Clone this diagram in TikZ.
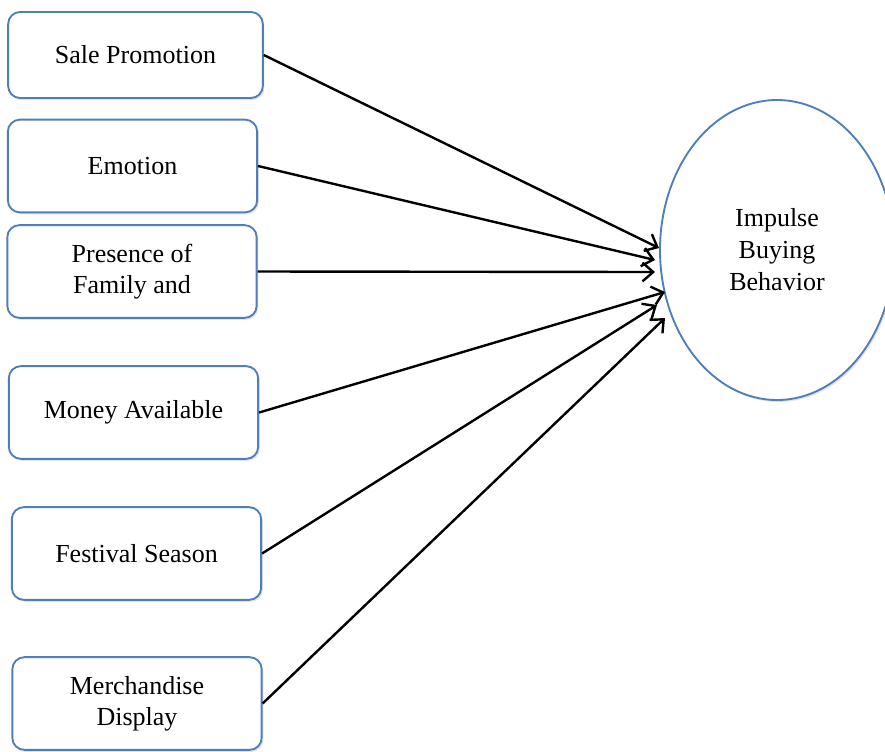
\documentclass[tikz,border=0pt]{standalone}
\usepackage{fontspec}
\setmainfont{Liberation Serif}
\usetikzlibrary{arrows.meta,shapes.geometric,shadows}
\definecolor{boxblue}{HTML}{4F7EBB}

\begin{document}
\begin{tikzpicture}[
  x=0.75pt,y=-0.75pt,
  factor/.style={draw=boxblue,line width=1.4pt,rounded corners=9pt,fill=white,
    minimum width=187pt,minimum height=69.5pt,align=center,
    font=\fontsize{19.5}{23.5}\selectfont,
    drop shadow={shadow xshift=1.2pt,shadow yshift=-1.5pt,fill=black!22}},
  outcome/.style={draw=boxblue,ellipse,line width=1.4pt,fill=white,
    minimum width=175.5pt,minimum height=225pt,inner sep=0pt,align=center,
    font=\fontsize{19.5}{24}\selectfont,
    drop shadow={shadow xshift=1.2pt,shadow yshift=-1.5pt,fill=black!22}},
  influence/.style={-{Straight Barb[length=8pt,width=14pt]},line width=1.8pt}
]
  \useasboundingbox (0,0) rectangle (885,751);

  \node[outcome] (ibb) at (777,250) {Impulse\\Buying\\Behavior};

  \node[factor,minimum width=191pt,minimum height=64.5pt] (sp) at (135.5,55) {Sale Promotion};
  \node[factor] (em) at (132.5,166) {Emotion};
  \node[factor] (pf) at (132,271.5) {Presence of\\Family and};
  \node[factor] (ma) at (133.5,412.5) {Money Available};
  \node[factor] (fs) at (136.5,553.5) {Festival Season};
  \node[factor] (md) at (137,703.5) {Merchandise\\Display};

  \coordinate (t1) at (659,248);
  \coordinate (t2) at (655,260);
  \coordinate (t3) at (655,272);
  \coordinate (t4) at (665,292);
  \coordinate (t5) at (657,305);
  \coordinate (t6) at (665,318);

  \draw[influence] (sp.east) -- (t1);
  \draw[influence] (em.east) -- (t2);
  \draw[influence] (pf.east) -- (t3);
  \draw[influence] (ma.east) -- (t4);
  \draw[influence] (fs.east) -- (t5);
  \draw[influence] (md.east) -- (t6);
\end{tikzpicture}
\end{document}
